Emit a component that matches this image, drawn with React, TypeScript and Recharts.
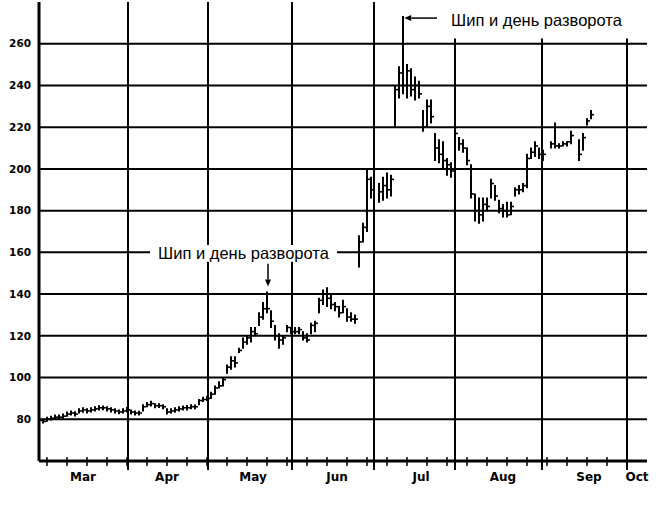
import { ComposedChart, Bar, XAxis, YAxis, CartesianGrid, ReferenceArea, ReferenceLine } from 'recharts';

// trading-day index 0..138, null = no bar that day
const lows = [
  78.5, 78.2, 79, 79.6, 80, 80.2, 80.5, 81.5, 82, 81.6, 83, 83.4, 83, 83.5, 84, 84.4, 84.6, 84, 83.5, 83, 82.6, 83, 83.5,
  82.5, 82, 82.1, 84, 86, 86.4, 85.5, 85.6, 85, 82.5, 83, 83.4, 84, 84.5, 84.4, 85, 85.1, 87, 88.5, 89,
  90, 92, 95, 96, 102, 104, 105, 112, 114, 116, 117, 120, 125, 128, 131, 124, 118, 114, 116, 122, 121,
  121, 121, 118, 117, 121, 122, 131, 135, 134, 133, 132, 129, 131, 127, 127, 126, 153, 165, 170, 186,
  null,
  184, 185, 186, 187, 220, 234, 236, 234, 235, 233, 234, 218, 220, 222, 204, 203, 200, 197, 196, 209,
  209, 208, 202, 186, 175, 174, 175, 180, 186, 185, 179, 177, 177, 178, 187, 188, 189, 191, 205, 206, 205,
  204, null, 210, 210, 210, 211, 211, 212, null, 204, 209, 221, 224,
];
const highs = [
  80.5, 80, 81, 81.4, 82, 82.1, 82.5, 83.5, 84, 83.6, 85, 85.5, 85.1, 85.5, 86, 86.5, 86.4, 86, 85.5, 85.1, 84.5, 85, 85.6,
  84.5, 84, 83.9, 87, 88, 88.6, 87.5, 87.4, 87, 85, 85.1, 85.5, 86, 86.4, 86.6, 87, 86.9, 89.5, 90.5, 91,
  93, 96, 98, 100, 106, 110, 110, 114, 119, 120, 124, 124, 131, 136, 141, 132, 125, 121, 120, 125, 124,
  124, 124, 122, 121, 126, 127, 138, 142, 143, 140, 136, 134, 137, 133, 131, 130, 168, 174, 200, 196,
  null,
  193, 196, 198, 197, 240, 249, 273, 250, 248, 244, 242, 228, 233, 233, 217, 214, 213, 205, 203, 220,
  215, 214, 210, 202, 188, 186, 186, 186, 195, 192, 185, 183, 184, 184, 191, 192, 193, 207, 210, 213, 210,
  209, null, 213, 222, 212, 213, 213, 218, null, 214, 217, 224, 228,
];
const closes = [
  79.5, 79, 80, 80.5, 81, 81, 81.5, 82.5, 83, 82.5, 84, 84.5, 84, 84.5, 85, 85.5, 85.5, 85, 84.5, 84, 83.5, 84, 84.5,
  83.5, 83, 83, 86, 87, 87.5, 86.5, 86.5, 86, 83.5, 84, 84.5, 85, 85.5, 85.5, 86, 86, 89, 89.5, 90,
  92, 95, 96, 99, 105, 108, 107, 113, 117, 119, 122, 121, 129, 133, 133, 127, 120, 118, 119, 124, 122,
  122, 123, 119, 118, 125, 126, 137, 140, 138, 135, 134, 131, 134, 129, 128, 128, 165, 172, 195, 190,
  null,
  189, 192, 190, 195, 238, 246, 240, 247, 238, 240, 236, 220, 230, 225, 210, 207, 204, 202, 199, 217,
  212, 210, 204, 188, 180, 178, 183, 182, 193, 187, 181, 180, 178, 182, 190, 190, 192, 205, 208, 211, 207,
  207, null, 212, 211, 211, 212, 213, 216, null, 207, 215, 223, 226,
];

const monthNames = ['Mar', 'Apr', 'May', 'Jun', 'Jul', 'Aug', 'Sep', 'Oct'];
const monthLabelDays = [11, 32, 53.5, 74.5, 95.5, 116, 137.5, 149.5];
const monthStarts = [22.25, 42.25, 63.25, 83.75, 104, 125.75, 147];
const yTicks = [80, 100, 120, 140, 160, 180, 200, 220, 240, 260];
const note = 'Шип и день разворота';

const lastDay = 152;
const yMin = 60;
const yMax = 280;
const weekTicks = Array.from({ length: 30 }, (_, i) => 2 + i * 5).filter((d) => d < lastDay);
const xTicks = Array.from(new Set([...monthStarts, ...weekTicks, ...monthLabelDays])).sort((a, b) => a - b);

const data = closes
  .map((c, i) => (c == null ? null : { day: i, range: [lows[i], highs[i]], close: c }))
  .filter(Boolean) as { day: number; range: number[]; close: number }[];

const HlcBar = (props: any) => {
  const { x, y, width, height, payload } = props;
  if (x == null || y == null) return null;
  const top = Math.min(y, y + height);
  const h = Math.abs(height);
  const [lo, hi] = payload.range;
  const cx = x + width / 2;
  const cy = hi === lo ? top : top + ((hi - payload.close) / (hi - lo)) * h;
  return (
    <g>
      <line x1={cx} x2={cx} y1={top - 0.5} y2={top + Math.max(h, 1) + 0.5} stroke="#000" strokeWidth={2} />
      <line x1={cx} x2={cx + 3} y1={cy} y2={cy} stroke="#000" strokeWidth={1.6} />
    </g>
  );
};

const XTick = (props: any) => {
  const { x, y, payload } = props;
  const v = payload.value;
  const li = monthLabelDays.indexOf(v);
  return (
    <g>
      {monthStarts.includes(v) && <line x1={x} x2={x} y1={y} y2={y + 9} stroke="#000" strokeWidth={2} />}
      {weekTicks.includes(v) && !monthStarts.includes(v) && (
        <line x1={x} x2={x} y1={y - 4} y2={y + 5} stroke="#000" strokeWidth={1.5} />
      )}
      {li >= 0 && (
        <text x={x} y={y + 20} textAnchor="middle" fill="#000" fontFamily="DejaVu Sans" fontWeight="bold" fontSize={12}>
          {monthNames[li]}
        </text>
      )}
    </g>
  );
};

const Arrow = (p: any) => {
  const { x1, y1, x2, y2 } = p;
  if (x1 == null) return null;
  const ang = Math.atan2(y2 - y1, x2 - x1);
  const L = 7;
  const W = 3;
  const bx = x2 - L * Math.cos(ang);
  const by = y2 - L * Math.sin(ang);
  const px = -Math.sin(ang) * W;
  const py = Math.cos(ang) * W;
  return (
    <g>
      <line x1={x1} y1={y1} x2={bx} y2={by} stroke="#000" strokeWidth={1.5} />
      <polygon points={`${x2},${y2} ${bx + px},${by + py} ${bx - px},${by - py}`} fill="#000" />
    </g>
  );
};

const noteLabel = {
  value: note,
  position: 'center' as const,
  fill: '#000',
  fontSize: 16.5,
  fontFamily: 'Liberation Sans, Arial, sans-serif',
};

export default function App() {
  return (
    <div style={{ position: 'absolute', left: 0, top: 0, background: '#fff' }}>
      <ComposedChart width={660} height={505} data={data} margin={{ top: 2, right: 13, left: 0, bottom: 14 }}>
        <CartesianGrid
          stroke="#000"
          strokeWidth={2}
          horizontalValues={yTicks}
          verticalValues={monthStarts}
        />
        <XAxis
          dataKey="day"
          type="number"
          domain={[0, lastDay]}
          ticks={xTicks}
          interval={0}
          height={30}
          tickLine={false}
          tickSize={0}
          tickMargin={0}
          tick={<XTick />}
          axisLine={{ stroke: '#000', strokeWidth: 3 }}
        />
        <XAxis
          xAxisId="frameTop"
          orientation="top"
          type="number"
          domain={[0, lastDay]}
          height={0}
          tick={false}
          tickLine={false}
          axisLine={{ stroke: '#000', strokeWidth: 2 }}
        />
        <YAxis
          type="number"
          domain={[yMin, yMax]}
          ticks={yTicks}
          interval={0}
          width={39}
          tickLine={false}
          axisLine={{ stroke: '#000', strokeWidth: 3 }}
          tick={{ fill: '#000', fontSize: 10.5, fontWeight: 'bold', fontFamily: 'DejaVu Sans' }}
        />
        <YAxis
          yAxisId="frameRight"
          orientation="right"
          type="number"
          domain={[yMin, yMax]}
          width={0}
          tick={false}
          tickLine={false}
          axisLine={{ stroke: '#000', strokeWidth: 2 }}
        />
        <ReferenceArea x1={27.75} x2={74.5} y1={155.5} y2={163.5} fill="#fff" fillOpacity={1} stroke="none" label={noteLabel} />
        <ReferenceArea x1={100.25} x2={148.5} y1={262.5} y2={yMax} fill="#fff" fillOpacity={1} stroke="none" label={noteLabel} />
        <ReferenceLine segment={[{ x: 99.5, y: 272.3 }, { x: 91.3, y: 272.3 }]} shape={Arrow} />
        <ReferenceLine segment={[{ x: 57.25, y: 154.6 }, { x: 57.25, y: 143.6 }]} shape={Arrow} />
        <Bar dataKey="range" barSize={2} shape={HlcBar} isAnimationActive={false} />
      </ComposedChart>
    </div>
  );
}
